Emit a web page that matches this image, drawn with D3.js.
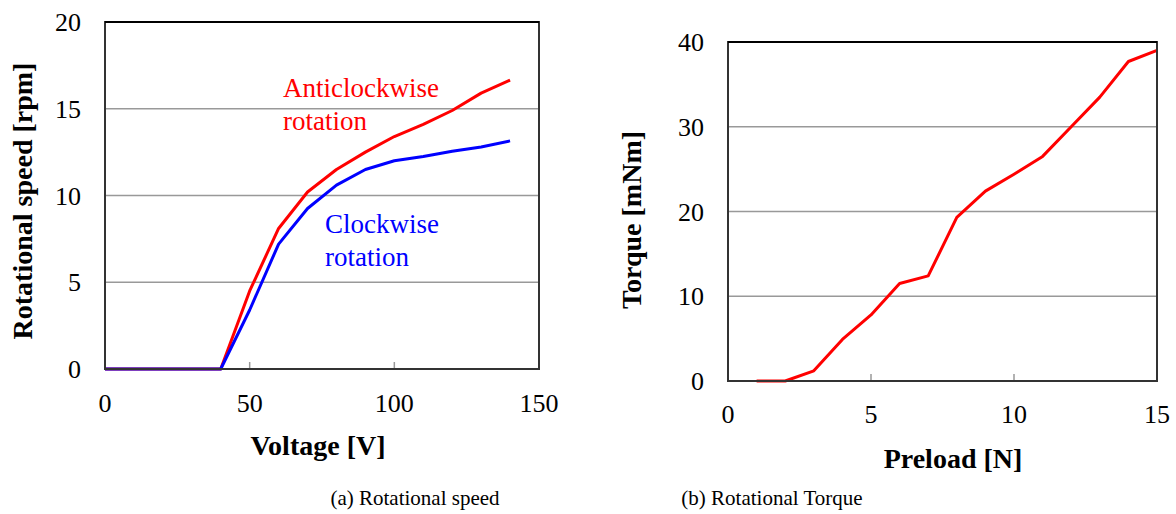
<!DOCTYPE html>
<html>
<head>
<meta charset="utf-8">
<title>speed and torque</title>
<style>
  body { margin: 0; background: #fff; }
</style>
</head>
<body>
<script src="https://cdn.jsdelivr.net/npm/d3@7"></script>
<script>
// (a) rotational speed vs voltage
var voltage = [0, 10, 20, 30, 40, 50, 60, 70, 80, 90, 100, 110, 120, 130, 140];
var anticlockwise = [0, 0, 0, 0, 0, 4.5, 8.1, 10.2, 11.5, 12.5, 13.4, 14.1, 14.9, 15.9, 16.65];
var clockwise = [0, 0, 0, 0, 0, 3.4, 7.2, 9.25, 10.6, 11.5, 12.0, 12.25, 12.55, 12.8, 13.15];
var speedXTicks = [0, 50, 100, 150];
var speedYTicks = [0, 5, 10, 15, 20];

// (b) torque vs preload
var preload = [1, 2, 3, 4, 5, 6, 7, 8, 9, 10, 11, 12, 13, 14, 15];
var torque = [0, 0, 1.2, 4.9, 7.8, 11.5, 12.4, 19.3, 22.4, 24.4, 26.5, 30.0, 33.5, 37.7, 39.0];
var torqueXTicks = [0, 5, 10, 15];
var torqueYTicks = [0, 10, 20, 30, 40];

var FONT = "'Liberation Serif', 'Times New Roman', serif";

var svg = d3.select("body").append("svg")
    .attr("width", 1176)
    .attr("height", 514);

// font has to sit on each text node or it gets lost
function txt(sel, size, bold) {
    return sel.style("font-family", FONT)
        .style("font-size", size + "px")
        .style("font-weight", bold ? "bold" : "normal");
}

function panel(opt) {
    var x = d3.scaleLinear().domain(opt.xDomain).range([opt.left, opt.right]);
    var y = d3.scaleLinear().domain(opt.yDomain).range([opt.bottom, opt.top]);
    var g = svg.append("g");

    // horizontal grid
    g.selectAll(".grid").data(opt.yTicks.slice(1, -1)).enter().append("line")
        .attr("x1", x(opt.xDomain[0])).attr("x2", x(opt.xDomain[1]))
        .attr("y1", function(d) { return y(d); })
        .attr("y2", function(d) { return y(d); })
        .style("stroke", "#999").style("stroke-width", 1.5);

    // small inner ticks on the bottom edge
    g.selectAll(".xt").data(opt.xTicks.slice(1, -1)).enter().append("line")
        .attr("x1", function(d) { return x(d); })
        .attr("x2", function(d) { return x(d); })
        .attr("y1", y(opt.yDomain[0])).attr("y2", y(opt.yDomain[0]) - 7)
        .style("stroke", "#999").style("stroke-width", 1.5);

    opt.series.forEach(function(s) {
        var line = d3.line()
            .x(function(d, i) { return x(opt.xs[i]); })
            .y(function(d) { return y(d); });
        g.append("path")
            .attr("d", line(s.values))
            .style("fill", "none")
            .style("stroke", s.color)
            .style("stroke-width", 3)
            .style("stroke-linejoin", "round");
    });

    g.append("rect")
        .attr("x", opt.left).attr("y", opt.top)
        .attr("width", opt.right - opt.left)
        .attr("height", opt.bottom - opt.top)
        .style("fill", "none").style("stroke", "#333").style("stroke-width", 2);
    g.append("line") // top edge is darker
        .attr("x1", opt.left).attr("x2", opt.right)
        .attr("y1", opt.top).attr("y2", opt.top)
        .style("stroke", "#000").style("stroke-width", 2);

    txt(g.selectAll(".yl").data(opt.yTicks).enter().append("text")
        .attr("x", opt.left - 24)
        .attr("y", function(d) { return y(d); })
        .attr("dy", "0.35em")
        .attr("text-anchor", "end"), 26)
        .text(function(d) { return d; });

    txt(g.selectAll(".xl").data(opt.xTicks).enter().append("text")
        .attr("x", function(d) { return x(d); })
        .attr("y", opt.bottom + opt.xLabelGap)
        .attr("text-anchor", "middle"), 26)
        .text(function(d) { return d; });

    txt(g.append("text")
        .attr("x", opt.xTitle[0]).attr("y", opt.xTitle[1])
        .attr("text-anchor", "middle"), 28, true)
        .text(opt.xTitleText);

    txt(g.append("text")
        .attr("transform", "translate(" + opt.yTitle[0] + "," + opt.yTitle[1] + ") rotate(-90)")
        .attr("text-anchor", "middle"), 28, true)
        .text(opt.yTitleText);

    return { x: x, y: y, g: g };
}

var a = panel({
    xDomain: [0, 150], yDomain: [0, 20],
    left: 105, right: 539, top: 22, bottom: 369,
    xs: voltage,
    series: [
        { values: anticlockwise, color: "#ff0000" },
        { values: clockwise, color: "#0000ff" }
    ],
    xTicks: speedXTicks, yTicks: speedYTicks,
    xLabelGap: 43,
    xTitle: [318, 455], xTitleText: "Voltage [V]",
    yTitle: [32, 201], yTitleText: "Rotational speed [rpm]"
});

var b = panel({
    xDomain: [0, 15], yDomain: [0, 40],
    left: 728, right: 1157, top: 42, bottom: 381,
    xs: preload,
    series: [{ values: torque, color: "#ff0000" }],
    xTicks: torqueXTicks, yTicks: torqueYTicks,
    xLabelGap: 42,
    xTitle: [953, 468], xTitleText: "Preload [N]",
    yTitle: [641, 220], yTitleText: "Torque [mNm]"
});

// series annotations in panel (a)
var notes = [
    { lines: ["Anticlockwise", "rotation"], x: 283, y: 97, color: "#ff0000" },
    { lines: ["Clockwise", "rotation"], x: 325, y: 233, color: "#0000ff" }
];
notes.forEach(function(n) {
    n.lines.forEach(function(t, i) {
        txt(a.g.append("text")
            .attr("x", n.x).attr("y", n.y + i * 33), 27)
            .style("fill", n.color)
            .text(t);
    });
});

// captions
var captions = [
    { text: "(a) Rotational speed", x: 415 },
    { text: "(b) Rotational Torque", x: 772 }
];
txt(svg.selectAll(".cap").data(captions).enter().append("text")
    .attr("x", function(d) { return d.x; })
    .attr("y", 505)
    .attr("text-anchor", "middle"), 21)
    .text(function(d) { return d.text; });
</script>
</body>
</html>
